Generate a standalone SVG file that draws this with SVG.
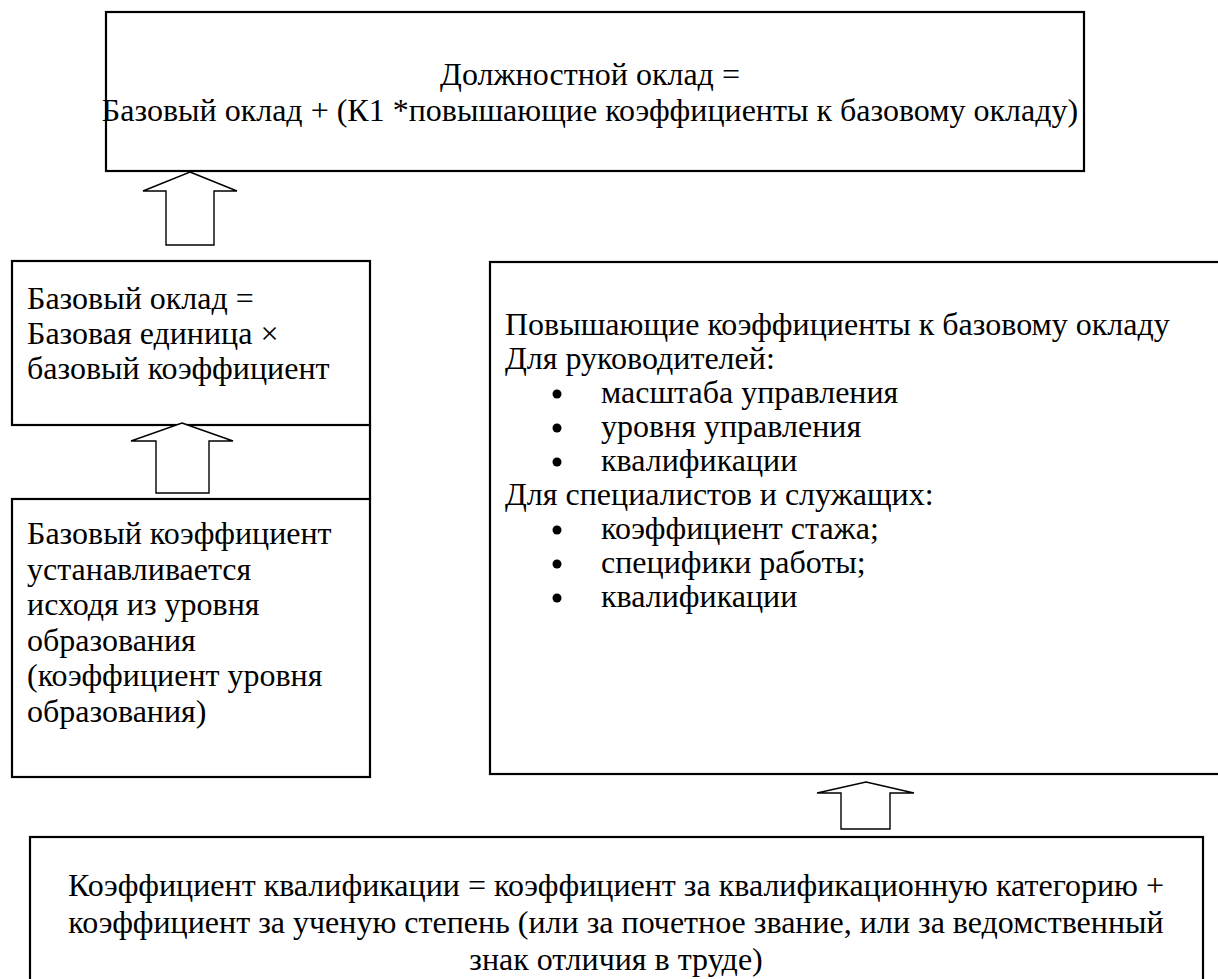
<svg xmlns="http://www.w3.org/2000/svg" width="1218" height="979" viewBox="0 0 1218 979">
<style>
.box{fill:#fff;stroke:#000;stroke-width:2.2}
.arr{fill:#fff;stroke:#000;stroke-width:1.4;stroke-linejoin:miter}
.t{font-family:'Liberation Serif','DejaVu Serif','Times New Roman',serif;font-size:32px;fill:#000}
.c{text-anchor:middle}
</style>
<rect width="1218" height="979" fill="#fff"/>
<g id="node-top" class="t">
<rect class="box" x="106" y="12" width="978" height="159"/>
<text class="c" x="590" y="85">Должностной оклад =</text>
<text class="c" x="590" y="121">Базовый оклад + (К1 *повышающие коэффициенты к базовому окладу)</text>
</g>
<g id="node-base-salary" class="t">
<rect class="box" x="12" y="261" width="358" height="164"/>
<text x="27" y="309">Базовый оклад =</text>
<text x="27" y="344">Базовая единица ×</text>
<text x="27" y="379">базовый коэффициент</text>
</g>
<g id="node-base-coef" class="t">
<rect class="box" x="12" y="499" width="358" height="278"/>
<text x="27" y="544">Базовый коэффициент</text>
<text x="27" y="579.5">устанавливается</text>
<text x="27" y="615">исходя из уровня</text>
<text x="27" y="650.5">образования</text>
<text x="27" y="686">(коэффициент уровня</text>
<text x="27" y="721.5">образования)</text>
</g>
<g id="node-raising" class="t">
<rect class="box" x="490" y="262" width="740" height="512"/>
<text x="505" y="335">Повышающие коэффициенты к базовому окладу</text>
<text x="505" y="369">Для руководителей:</text>
<circle cx="557" cy="394" r="4.5"/><text x="601" y="403">масштаба управления</text>
<circle cx="557" cy="428" r="4.5"/><text x="601" y="437">уровня управления</text>
<circle cx="557" cy="462" r="4.5"/><text x="601" y="471">квалификации</text>
<text x="505" y="505">Для специалистов и служащих:</text>
<circle cx="557" cy="530" r="4.5"/><text x="601" y="539">коэффициент стажа;</text>
<circle cx="557" cy="564" r="4.5"/><text x="601" y="573">специфики работы;</text>
<circle cx="557" cy="598" r="4.5"/><text x="601" y="607">квалификации</text>
</g>
<g id="node-qualification" class="t">
<rect class="box" x="30" y="837" width="1173" height="160"/>
<text class="c" x="616" y="896">Коэффициент квалификации = коэффициент за квалификационную категорию +</text>
<text class="c" x="616" y="933">коэффициент за ученую степень (или за почетное звание, или за ведомственный</text>
<text class="c" x="616" y="970">знак отличия в труде)</text>
</g>
<g id="connectors">
<line x1="370" y1="425" x2="370" y2="499" stroke="#000" stroke-width="2.2"/>
<polygon class="arr" points="190,172 237,191 214,191 214,245 166,245 166,191 143,191"/>
<polygon class="arr" points="182,423 233,441 209,441 209,493 156,493 156,441 131,441"/>
<polygon class="arr" points="866,782 914,793 890,793 890,829 841,829 841,793 817,793"/>
</g>
</svg>
